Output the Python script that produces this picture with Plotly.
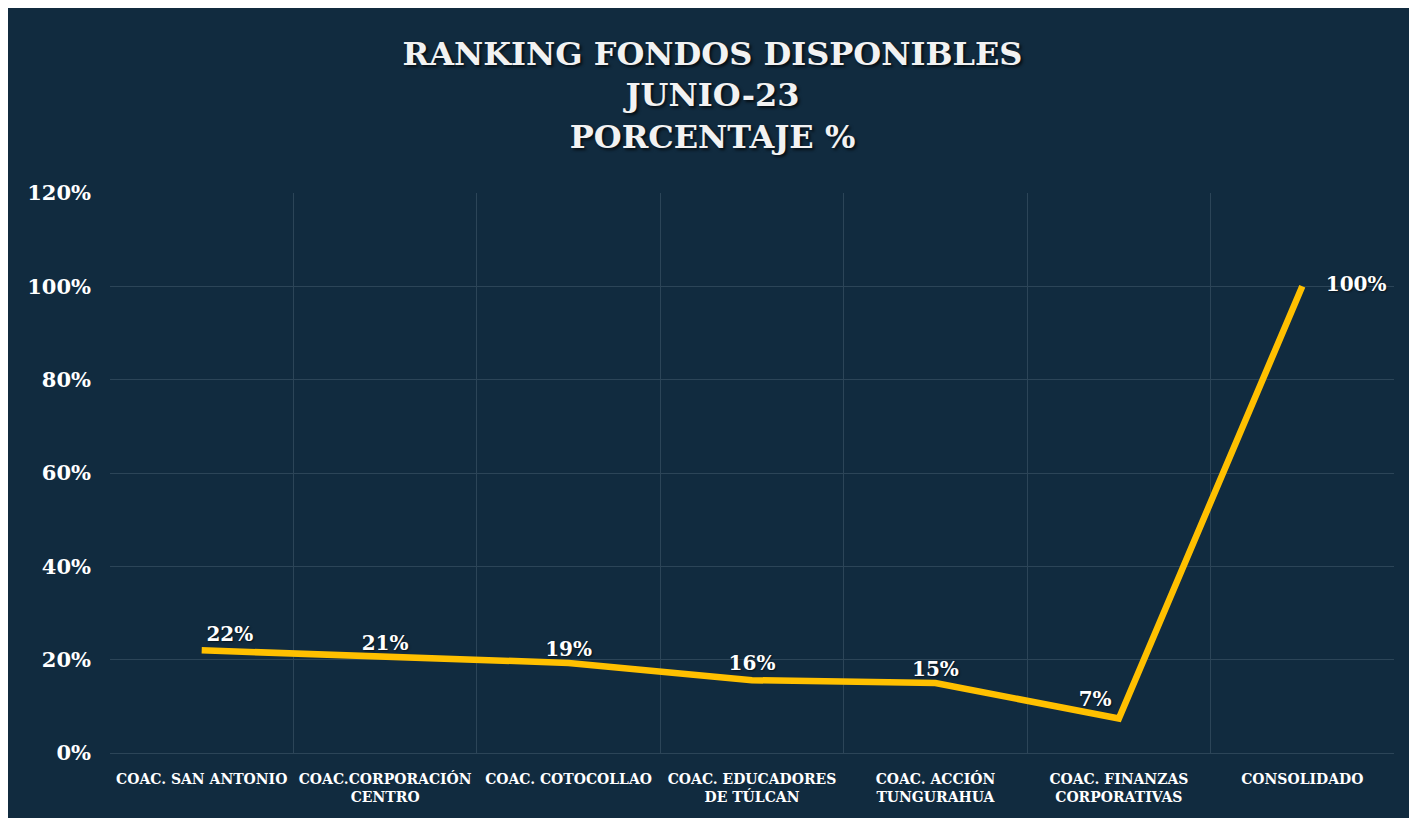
import plotly.graph_objects as go

categories = [
    "COAC. SAN ANTONIO",
    "COAC.CORPORACIÓN<br>CENTRO",
    "COAC. COTOCOLLAO",
    "COAC. EDUCADORES<br>DE TÚLCAN",
    "COAC. ACCIÓN<br>TUNGURAHUA",
    "COAC. FINANZAS<br>CORPORATIVAS",
    "CONSOLIDADO",
]
values = [0.22, 0.206, 0.193, 0.156, 0.150, 0.074, 1.00]
label_positions = ["top right", "top center", "top center", "top center",
                   "top center", "top left", "middle right"]
label_gap = [6, 2, 2, 6, 2, 10, 36]
title_lines = ["RANKING FONDOS DISPONIBLES", "JUNIO-23", "PORCENTAJE %"]

BG = "#112B3F"
GRID = "#2C4558"
GOLD = "#FFC000"
FONT = "DejaVu Serif"

fig = go.Figure()

# soft drop shadow under the line (same data on a slightly offset hidden subplot)
fig.add_trace(go.Scatter(
    x=categories, y=values, mode="lines",
    line=dict(color="rgba(0,0,0,0.4)", width=8),
    xaxis="x", yaxis="y", hoverinfo="skip", showlegend=False,
))

fig.add_trace(go.Scatter(
    x=categories, y=values, mode="lines+markers+text",
    line=dict(color=GOLD, width=6.5),
    marker=dict(size=label_gap, color="rgba(0,0,0,0)", line=dict(width=0)),
    texttemplate="%{y:.0%}",
    textposition=label_positions,
    textfont=dict(family=FONT, size=20, color="white", weight="bold",
                  shadow="1px 1px 2px rgba(0,0,0,0.6)"),
    xaxis="x2", yaxis="y2",
    showlegend=False,
))

fig.update_layout(
    width=1409, height=810,
    paper_bgcolor=BG, plot_bgcolor=BG,
    margin=dict(l=102, r=21, t=185, b=62),
    title=dict(
        text="<br>".join(title_lines),
        x=0.5, xanchor="center", xref="container",
        y=0.930, yanchor="top", yref="container",
        font=dict(family=FONT, size=32, color="#F2F2F2", weight="bold",
                  shadow="2px 2px 3px rgba(0,0,0,0.7)"),
    ),
    xaxis=dict(
        domain=[0.001555, 1], type="category", categoryorder="array",
        categoryarray=categories, range=[-0.5, len(categories) - 0.5],
        visible=False, showgrid=False, zeroline=False, anchor="y",
    ),
    yaxis=dict(
        domain=[0, 1 - 0.00533], range=[0, 1.2],
        visible=False, showgrid=False, zeroline=False, anchor="x",
    ),
    xaxis2=dict(
        domain=[0, 1 - 0.001555],
        type="category", categoryorder="array", categoryarray=categories,
        range=[-0.5, len(categories) - 0.5],
        tickson="boundaries", showgrid=True, gridcolor=GRID, gridwidth=1,
        ticks="", showline=False, zeroline=False,
        tickangle=0,
        tickfont=dict(family=FONT, size=14, color="white", weight="bold"),
        ticklabelstandoff=16,
        anchor="y2", side="bottom",
    ),
    yaxis2=dict(
        domain=[0.00533, 1],
        range=[0, 1.2], dtick=0.2, tickformat=".0%",
        showgrid=True, gridcolor=GRID, gridwidth=1,
        zeroline=True, zerolinecolor=GRID, zerolinewidth=1,
        ticks="", showline=False,
        tickfont=dict(family=FONT, size=21, color="white", weight="bold"),
        ticklabelstandoff=18,
        anchor="x2", side="left",
    ),
)

fig.write_html("out.html")
